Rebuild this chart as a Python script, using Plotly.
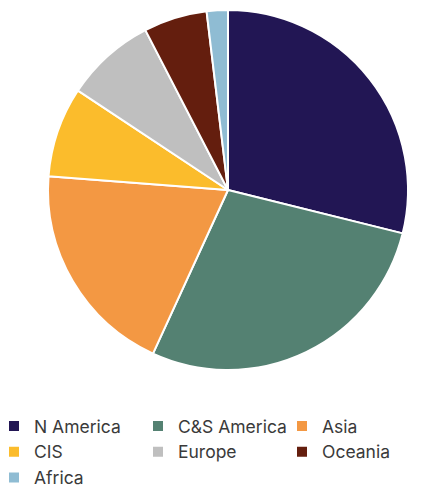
import plotly.graph_objects as go

regions = ["N America", "C&S America", "Asia", "CIS", "Europe", "Oceania", "Africa"]
shares = [28.9, 28.0, 19.4, 8.1, 8.1, 5.7, 1.9]
colors = ["#221654", "#548172", "#F39843", "#FBBC2C", "#BFBFBF", "#641E0E", "#8FBCD3"]

W, H = 429, 487
MB = 90
PH = H - MB  # plot-area height

fig = go.Figure(go.Pie(
    labels=regions, values=shares, sort=False, direction="clockwise", rotation=0,
    marker=dict(colors=colors, line=dict(color="white", width=2)),
    textinfo="none", hoverinfo="label+percent",
    domain=dict(x=[40 / W, 400 / W], y=[(PH - 363) / PH, (PH - 1) / PH]),
))
fig.update_layout(
    width=W, height=H, margin=dict(l=0, r=0, t=0, b=MB, autoexpand=False),
    paper_bgcolor="white", plot_bgcolor="white",
    font=dict(family="Inter, sans-serif", color="#3a3a3a"),
    legend=dict(orientation="h", x=-14 / W, xanchor="left", y=(PH - 400) / PH, yanchor="top",
                entrywidth=99, entrywidthmode="pixels",
                font=dict(size=17.5, color="#3a3a3a"), itemwidth=30, traceorder="normal"),
)
fig.write_html("out.html")
